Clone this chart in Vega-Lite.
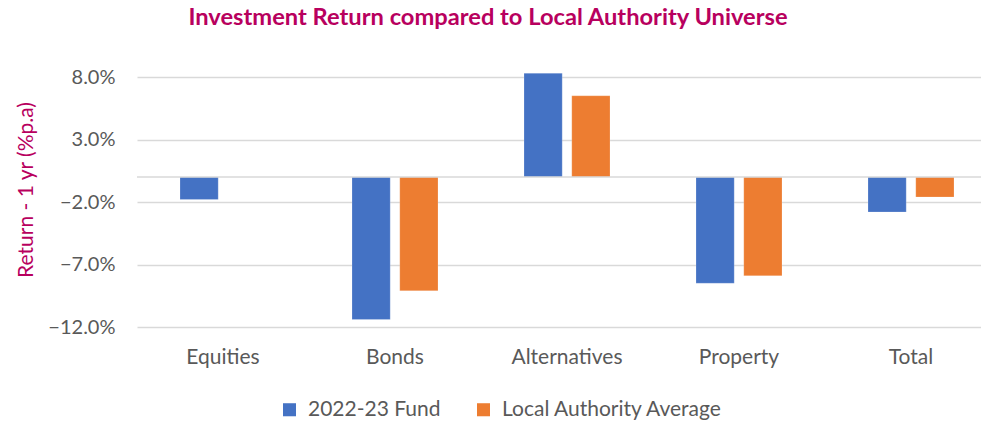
{
  "$schema": "https://vega.github.io/schema/vega-lite/v6.json",
  "autosize": {"type": "none"},
  "padding": {"left": 137, "top": 52, "right": 0, "bottom": 96},
  "width": 844,
  "height": 275,
  "background": "white",
  "title": {
    "text": "Investment Return compared to Local Authority Universe",
    "font": "Lato",
    "fontSize": 23.7,
    "fontWeight": "bold",
    "color": "#B8005E",
    "anchor": "middle",
    "dx": -71,
    "offset": 22
  },
  "config": {
    "view": {"stroke": null},
    "font": "Lato"
  },
  "data": {
    "values": [
      {"category": "Equities", "series": "2022-23 Fund", "value": -1.8},
      {"category": "Bonds", "series": "2022-23 Fund", "value": -11.4},
      {"category": "Bonds", "series": "Local Authority Average", "value": -9.1},
      {"category": "Alternatives", "series": "2022-23 Fund", "value": 8.3},
      {"category": "Alternatives", "series": "Local Authority Average", "value": 6.5},
      {"category": "Property", "series": "2022-23 Fund", "value": -8.5},
      {"category": "Property", "series": "Local Authority Average", "value": -7.9},
      {"category": "Total", "series": "2022-23 Fund", "value": -2.8},
      {"category": "Total", "series": "Local Authority Average", "value": -1.6}
    ]
  },
  "layer": [
    {
      "mark": {"type": "bar", "stroke": "white", "strokeWidth": 0.5, "strokeOpacity": 0.4},
      "encoding": {
        "x": {
          "field": "category",
          "type": "nominal",
          "sort": ["Equities", "Bonds", "Alternatives", "Property", "Total"],
          "scale": {"range": [0, 860], "paddingInner": 0.5, "paddingOuter": 0.25},
          "axis": {
            "title": null,
            "labelAngle": 0,
            "orient": "bottom",
            "domain": false,
            "ticks": false,
            "labelPadding": 19,
            "labelFontSize": 21,
            "labelColor": "#595959",
            "labelFont": "Lato"
          }
        },
        "xOffset": {
          "field": "series",
          "type": "nominal",
          "sort": ["2022-23 Fund", "Local Authority Average"],
          "scale": {"paddingInner": 0.2, "paddingOuter": 0}
        },
        "y": {
          "field": "value",
          "type": "quantitative",
          "scale": {"domain": [-12, 10], "nice": false, "zero": false},
          "axis": {
            "values": [-12, -7, -2, 3, 8],
            "labelExpr": "format(datum.value, '.1f') + '%'",
            "title": "Return - 1 yr (%p.a)",
            "titleColor": "#B8005E",
            "titleFontSize": 21,
            "titleFontWeight": "normal",
            "titleFont": "Lato",
            "titlePadding": 11,
            "labelFontSize": 20,
            "labelColor": "#595959",
            "labelFont": "Lato",
            "labelPadding": 22,
            "domain": false,
            "ticks": false,
            "grid": true,
            "gridColor": "#D9D9D9",
            "gridWidth": 1.3
          }
        },
        "color": {
          "field": "series",
          "type": "nominal",
          "sort": ["2022-23 Fund", "Local Authority Average"],
          "scale": {"domain": ["2022-23 Fund", "Local Authority Average"], "range": ["#4472C4", "#ED7D31"]},
          "legend": {
            "title": null,
            "orient": "none",
            "direction": "horizontal",
            "legendX": 142,
            "legendY": 347,
            "symbolType": "square",
            "symbolSize": 170,
            "symbolStrokeWidth": 0,
            "labelFontSize": 21,
            "labelColor": "#595959",
            "labelFont": "Lato",
            "labelLimit": 400,
            "columnPadding": 32,
            "labelOffset": 8
          }
        }
      }
    },
    {
      "data": {"values": [{"zero": 0}]},
      "mark": {"type": "rule", "color": "#D9D9D9", "strokeWidth": 1.3},
      "encoding": {
        "y": {"field": "zero", "type": "quantitative"}
      }
    }
  ]
}
